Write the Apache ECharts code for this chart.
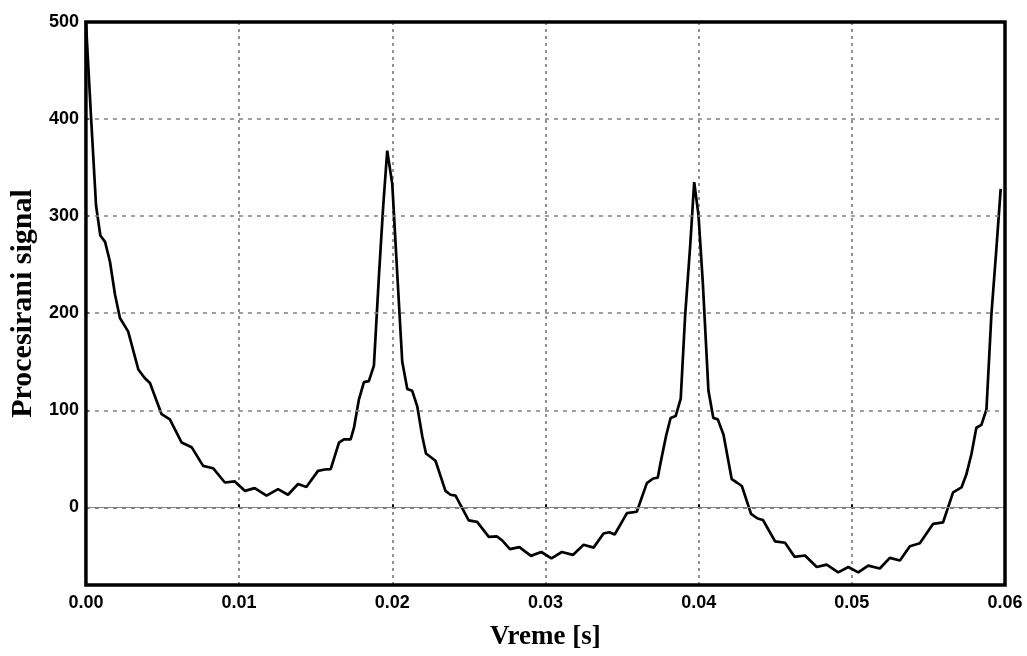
<!DOCTYPE html>
<html>
<head>
<meta charset="utf-8">
<script src="https://cdn.jsdelivr.net/npm/echarts@6/dist/echarts.min.js"></script>
<style>
  html, body { margin: 0; padding: 0; background: #fff; }
  #chart { width: 1027px; height: 656px; }
</style>
</head>
<body>
<div id="chart"></div>
<script>
// Time samples [s]
const time = [
  0.0000, 0.00033, 0.00066, 0.00094, 0.00125, 0.00157, 0.00190, 0.00222, 0.00276, 0.00342,
  0.00385, 0.00418, 0.00494, 0.00548, 0.00625, 0.00690, 0.00765, 0.00830, 0.00907, 0.00972,
  0.01037, 0.01102, 0.01179, 0.01254, 0.01319, 0.01385, 0.01439, 0.01515, 0.01559, 0.01598,
  0.01652, 0.01684, 0.01728, 0.01750, 0.01782, 0.01815, 0.01847, 0.01880, 0.01913, 0.01941,
  0.01967, 0.02000, 0.02033, 0.02065, 0.02098, 0.02130, 0.02163, 0.02196, 0.02220, 0.02282,
  0.02347, 0.02380, 0.02413, 0.02445, 0.02499, 0.02554, 0.02630, 0.02684, 0.02717, 0.02768,
  0.02830, 0.02905, 0.02973, 0.03039, 0.03107, 0.03179, 0.03249, 0.03314, 0.03379, 0.03417,
  0.03452, 0.03532, 0.03596, 0.03662, 0.03703, 0.03733, 0.03749, 0.03788, 0.03817, 0.03850,
  0.03883, 0.03912, 0.03945, 0.03971, 0.03999, 0.04027, 0.04064, 0.04096, 0.04125, 0.04162,
  0.04216, 0.04249, 0.04282, 0.04342, 0.04385, 0.04420, 0.04499, 0.04564, 0.04626, 0.04694,
  0.04771, 0.04836, 0.04911, 0.04977, 0.05042, 0.05107, 0.05183, 0.05248, 0.05314, 0.05379,
  0.05444, 0.05531, 0.05596, 0.05661, 0.05716, 0.05748, 0.05781, 0.05813, 0.05846, 0.05879,
  0.05911, 0.05944, 0.05972
];
// Processed signal values
const signal = [
  500, 403, 311, 280, 273.5, 253, 219, 195, 181, 142,
  133, 128, 96, 90.6, 66.7, 62, 42.7, 40.3, 25.6, 26.7,
  17, 19.8, 12, 18.8, 13, 24, 21, 37.6, 39, 39.3,
  66.7, 70, 70, 82, 111, 129, 130, 146, 239, 311,
  367.5, 333, 239, 150, 122, 120, 104, 73, 55.5, 48,
  17, 13, 12, 2.5, -13.5, -15, -30.5, -30, -34, -43,
  -41, -50, -46, -52.5, -46, -49, -38.5, -41.5, -27, -25.6,
  -28, -6, -4.5, 25, 29.7, 30.5, 44, 74, 92, 94,
  112, 198, 270, 335, 301, 232, 120, 92, 90.6, 75,
  29, 25.6, 22, -6.8, -11.5, -13, -35, -36.5, -51, -49.6,
  -61.5, -59, -67, -61.5, -67, -60, -63, -52, -54.7, -40,
  -37, -17, -15.4, 15.4, 20.5, 34, 55, 82, 85, 101,
  198, 267, 328
];
const xTicks = [0, 0.01, 0.02, 0.03, 0.04, 0.05, 0.06];
const yTicks = [0, 100, 200, 300, 400, 500];
const yMin = -80;
const xTitle = 'Vreme [s]';
const yTitle = 'Procesirani signal';

const seriesData = time.map((t, i) => [t, signal[i]]);

const chart = echarts.init(document.getElementById('chart'), null, { renderer: 'canvas' });
const gridColor = '#808080';
chart.setOption({
  animation: false,
  backgroundColor: '#fff',
  grid: { left: 85, right: 22, top: 22, bottom: 69, show: true, borderColor: '#000', borderWidth: 3.5, backgroundColor: 'transparent', containLabel: false, z: 10 },
  xAxis: {
    type: 'value',
    min: xTicks[0],
    max: xTicks[xTicks.length - 1],
    interval: 0.01,
    name: xTitle,
    nameLocation: 'middle',
    nameGap: 39,
    nameTextStyle: { fontFamily: 'Liberation Serif', fontWeight: 'bold', fontSize: 27, color: '#000' },
    axisLine: { show: false },
    axisTick: { show: true, inside: true, length: 3, lineStyle: { color: '#000', width: 2 } },
    axisLabel: { margin: 9, fontFamily: 'Liberation Sans', fontWeight: 'bold', fontSize: 18, color: '#000', formatter: v => v.toFixed(2) },
    splitLine: { show: true, lineStyle: { color: gridColor, width: 1.7, type: [3, 4] } }
  },
  yAxis: {
    type: 'value',
    min: yMin,
    max: yTicks[yTicks.length - 1],
    name: yTitle,
    nameLocation: 'middle',
    nameGap: 47,
    nameTextStyle: { fontFamily: 'Liberation Serif', fontWeight: 'bold', fontSize: 30, color: '#000' },
    axisLine: { show: false },
    axisTick: { show: true, inside: true, length: 3, customValues: yTicks, lineStyle: { color: '#000', width: 2 } },
    axisLabel: { margin: 7, fontFamily: 'Liberation Sans', fontWeight: 'bold', fontSize: 18, color: '#000', customValues: yTicks,
      formatter: v => String(v) },
    splitLine: { show: false }
  },
  series: [{
    type: 'line',
    data: seriesData,
    showSymbol: false,
    symbol: 'none',
    lineStyle: { color: '#000', width: 2.7 },
    clip: true,
    z: 3
  }, {
    type: 'line',
    data: [],
    silent: true,
    z: 1,
    markLine: {
      silent: true,
      symbol: 'none',
      animation: false,
      label: { show: false },
      lineStyle: { color: gridColor, width: 1.7, type: [4, 5] },
      data: yTicks.slice(1).map(v => ({ yAxis: v })).concat([
        { yAxis: 0, lineStyle: { color: '#888888', width: 1, type: 'solid' } },
        { yAxis: 0, lineStyle: { color: gridColor, width: 1.8, type: [4, 5] } }
      ])
    }
  }]
});
</script>
</body>
</html>
